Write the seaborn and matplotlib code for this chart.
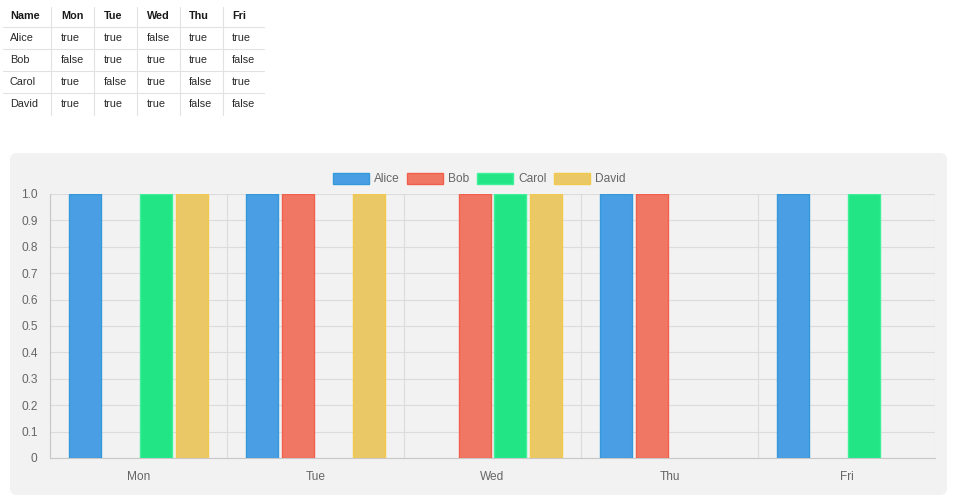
import matplotlib
matplotlib.use("Agg")
import matplotlib.pyplot as plt
import matplotlib.patches as mpatches
from matplotlib.patches import FancyBboxPatch
import pandas as pd
import seaborn as sns

names = ["Alice", "Bob", "Carol", "David"]
days = ["Mon", "Tue", "Wed", "Thu", "Fri"]
alice = [True, True, False, True, True]
bob = [False, True, True, True, False]
carol = [True, False, True, False, True]
david = [True, True, True, False, False]
table_rows = [alice, bob, carol, david]

fill_colors = ["#4a9fe4", "#f07764", "#22e585", "#ebc866"]
edge_colors = ["#3498db", "#f0604c", "#3ef09a", "#f3c84e"]

records = []
for name, row in zip(names, table_rows):
    for day, v in zip(days, row):
        records.append({"name": name, "day": day, "value": 1 if v else 0})
df = pd.DataFrame(records)

sns.set_style("white")
plt.rcParams["font.family"] = ["Liberation Sans", "DejaVu Sans"]

fig = plt.figure(figsize=(9.57, 4.97), dpi=100)
fig.patch.set_facecolor("white")

# background layer in pixel coordinates: panel + table
bg = fig.add_axes([0, 0, 1, 1], zorder=0)
bg.set_xlim(0, 957)
bg.set_ylim(497, 0)
bg.axis("off")
bg.add_patch(FancyBboxPatch((10, 153), 937, 342,
                            boxstyle="round,pad=0,rounding_size=7",
                            facecolor="#f2f2f2", edgecolor="none"))

col_x = [10, 61, 104, 147, 189, 232]
row_y = [16, 38, 60, 82, 104]
header = ["Name"] + days
for x, h in zip(col_x, header):
    bg.text(x, row_y[0], h, fontsize=7.8, fontweight="bold", va="center", color="#1a1a1a")
for r, (name, row) in enumerate(zip(names, table_rows)):
    cells = [name] + ["true" if v else "false" for v in row]
    for x, c in zip(col_x, cells):
        bg.text(x, row_y[r + 1], c, fontsize=7.8, va="center", color="#2a2a2a")
for y in [27, 49, 71, 93]:
    bg.plot([3, 264], [y, y], color="#e2e2e2", lw=0.8)
for x in [51, 94, 137, 180, 223]:
    bg.plot([x, x], [7, 115], color="#e2e2e2", lw=0.8)

# bar chart
ax = fig.add_axes([50 / 957, 1 - 458 / 497, (935 - 50) / 957, (458 - 194) / 497], zorder=1)
ax.set_facecolor("none")
sns.barplot(data=df, x="day", y="value", hue="name", order=days, hue_order=names,
            palette=fill_colors, width=0.8, gap=0.1, ax=ax, legend=False,
            saturation=1, zorder=3)
for cont, ec in zip(ax.containers, edge_colors):
    for bar in cont:
        if bar.get_height() > 0:
            bar.set_edgecolor(ec)
            bar.set_linewidth(1.0)
        else:
            bar.set_linewidth(0)

grid_c = "#dcdcdc"
ax.set_xlim(-0.5, 4.5)
ax.set_ylim(0, 1.0)
ax.set_yticks([i / 10 for i in range(11)])
ax.set_yticklabels(["0"] + [f"{i / 10:.1f}" for i in range(1, 11)])
ax.set_xticks(range(5))
ax.set_xticks([i - 0.5 for i in range(6)], minor=True)
ax.grid(axis="y", which="major", color=grid_c, lw=0.8, zorder=0)
ax.grid(axis="x", which="minor", color=grid_c, lw=0.8, zorder=0)
ax.tick_params(axis="y", length=6, width=0.8, color=grid_c, pad=3, labelsize=8.6, labelcolor="#666666")
ax.tick_params(axis="x", which="major", length=0, pad=9, labelsize=8.6, labelcolor="#666666")
ax.tick_params(axis="x", which="minor", length=5.5, width=0.8, color=grid_c)
ax.set_xlabel("")
ax.set_ylabel("")
for s in ["top", "right"]:
    ax.spines[s].set_visible(False)
for s in ["left", "bottom"]:
    ax.spines[s].set_color("#c8c8c8")
    ax.spines[s].set_linewidth(0.8)

handles = [mpatches.Patch(facecolor=f, edgecolor=e, lw=1.0, label=n)
           for n, f, e in zip(names, fill_colors, edge_colors)]
fig.legend(handles=handles, loc="center", bbox_to_anchor=(479 / 957, 1 - 179 / 497),
           ncol=4, frameon=False, fontsize=8.6, handlelength=3.05, handleheight=1.1,
           handletextpad=0.4, columnspacing=0.62, labelcolor="#666666")

fig.savefig("out.png", dpi=100)
